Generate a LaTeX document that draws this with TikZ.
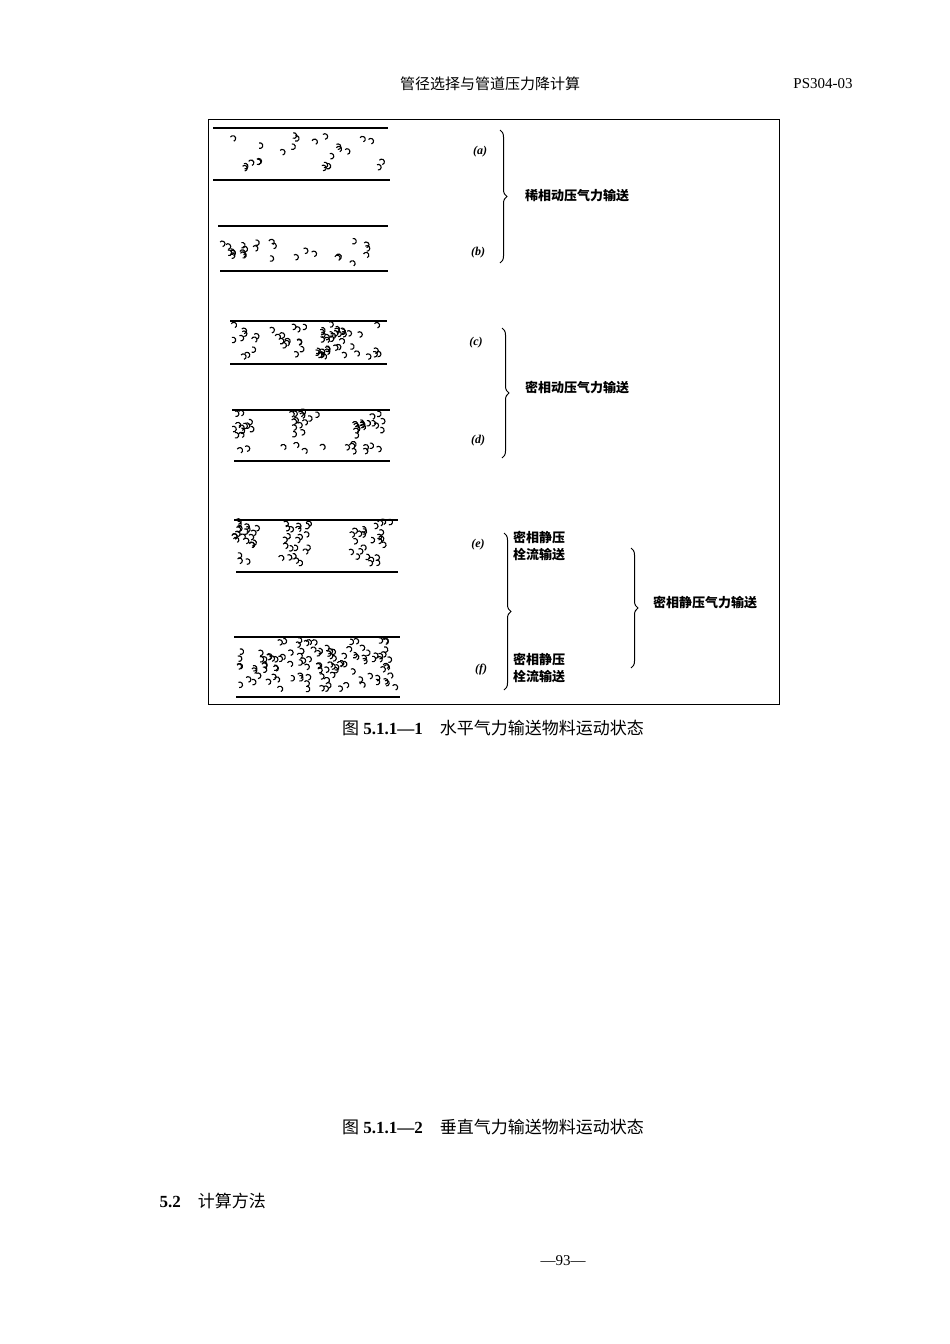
\documentclass[tikz,border=0pt]{standalone}
\usepackage{fontspec}
\setmainfont{Liberation Serif}
\newfontfamily\cjk{Noto Sans CJK SC}
\usetikzlibrary{decorations.pathreplacing}
\newcommand\grains[5]{%
  \foreach \k in {1,...,#5}{%
    \pgfmathsetmacro\gx{#1+rnd*(#2-#1)}%
    \pgfmathsetmacro\gy{#3+rnd*(#4-#3)}%
    \pgfmathsetmacro\ga{60+rnd*60}%
    \draw[grain] (\gx,\gy) arc[start angle=\ga,delta angle=-220,radius=2.8];}}
\begin{document}
\begin{tikzpicture}
	[
	x=1pt, y=-1pt,
	wall/.style = {line width=1.2pt},
	grain/.style = {line width=1.1pt},
	tag/.style = {font=\fontsize{12}{14}\selectfont\itshape\bfseries},
	mode/.style = {font=\cjk\fontsize{13}{17}\selectfont\bfseries, align=left, inner sep=1pt},
	text15/.style = {font=\fontsize{15}{18}\selectfont},
	text17/.style = {font=\fontsize{17}{20}\selectfont},
	curly/.style = {decorate, decoration={brace, amplitude=7pt}, line width=1pt}
	]
	\useasboundingbox[fill=white] (0,0) rectangle (950,1344);
	\pgfmathsetseed{7}
	% page header
	\node[text15] (head) at (490,84) {\cjk 管径选择与管道压力降计算};
	\node[text15] (code) at (823,84) {PS304-03};
	\draw[line width=0.6pt] (208,119) rectangle (779,704);

	% pipes (a)-(f)
	\draw[wall] (213,128) -- (388,128);  \draw[wall] (213,180) -- (390,180);
	\grains{215}{385}{137}{172}{24}
	\draw[wall] (218,226) -- (388,226);  \draw[wall] (220,271) -- (388,271);
	\grains{222}{385}{242}{266}{26}
	\draw[wall] (230,321) -- (387,321);  \draw[wall] (230,364) -- (387,364);
	\grains{232}{385}{327}{340}{16}
	\grains{232}{300}{340}{360}{14}
	\grains{312}{345}{332}{360}{28}
	\grains{350}{385}{345}{360}{6}
	\draw[wall] (232,410) -- (390,410);  \draw[wall] (234,461) -- (390,461);
	\grains{232}{255}{414}{440}{12}
	\grains{290}{318}{414}{440}{14}
	\grains{352}{385}{414}{440}{16}
	\grains{240}{385}{445}{456}{14}
	\draw[wall] (234,520) -- (398,520);  \draw[wall] (236,572) -- (398,572);
	\grains{234}{258}{524}{566}{22}
	\grains{282}{310}{524}{566}{22}
	\grains{350}{390}{524}{566}{26}
	\draw[wall] (234,637) -- (400,637);  \draw[wall] (236,697) -- (400,697);
	\grains{238}{396}{643}{692}{110}

	% labels
	\node[tag] (ta) at (480,152) {(a)};
	\node[tag] (tb) at (478,253) {(b)};
	\node[tag] (tc) at (476,343) {(c)};
	\node[tag] (td) at (478,441) {(d)};
	\node[tag] (te) at (478,545) {(e)};
	\node[tag] (tf) at (481,670) {(f)};

	% braces
	\draw[curly] (500,130) -- (500,263);
	\node[mode, anchor=west] (dilute) at (524,196) {稀相动压气力输送};
	\draw[curly] (502,328) -- (502,458);
	\node[mode, anchor=west] (dense) at (524,388) {密相动压气力输送};
	\draw[curly] (504,533) -- (504,690);
	\node[mode, anchor=west] (pe) at (512,546) {密相静压\\栓流输送};
	\node[mode, anchor=west] (pf) at (512,668) {密相静压\\栓流输送};
	\draw[curly] (631,548) -- (631,668);
	\node[mode, anchor=west] (static) at (652,603) {密相静压气力输送};

	% captions
	\node[text17] (cap1) at (493,728) {{\cjk 图} \textbf{5.1.1—1}\quad{\cjk 水平气力输送物料运动状态}};
	\node[text17] (cap2) at (493,1127) {{\cjk 图} \textbf{5.1.1—2}\quad{\cjk 垂直气力输送物料运动状态}};
	\node[text17, anchor=west] (sec) at (156,1201) {\textbf{5.2}\quad{\cjk 计算方法}};
	\node[text15] (page) at (563,1261) {—93—};
\end{tikzpicture}
\end{document}
